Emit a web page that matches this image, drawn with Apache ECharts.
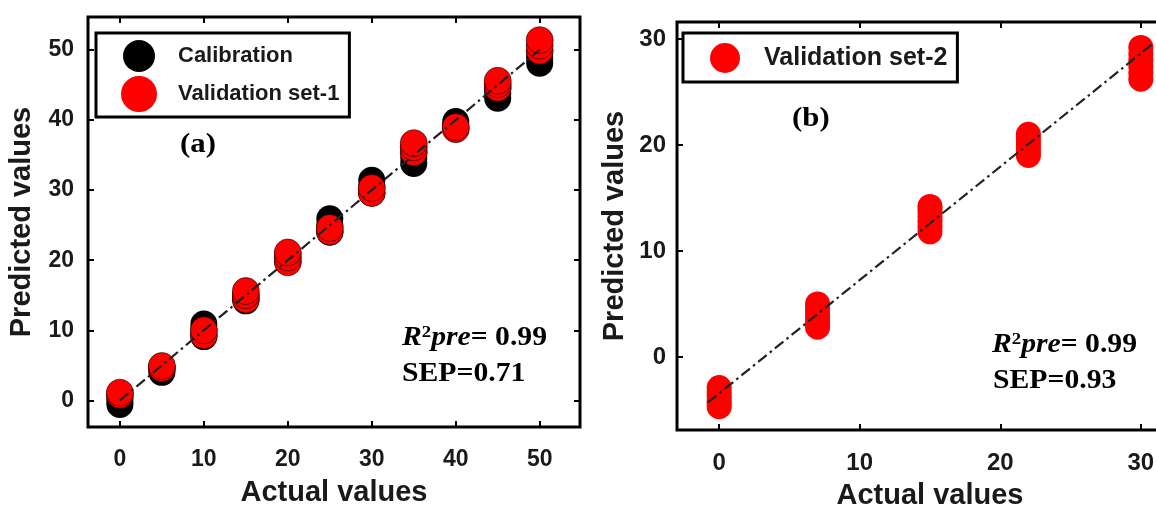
<!DOCTYPE html>
<html>
<head>
<meta charset="utf-8">
<script src="https://cdn.jsdelivr.net/npm/echarts@6/dist/echarts.min.js"></script>
<style>
  html, body { margin: 0; padding: 0; background: #ffffff; }
  #chart { width: 1156px; height: 508px; }
</style>
</head>
<body>
<div id="chart"></div>
<script>
// Panel (a): actual concentration levels and predicted replicates
const actualLevelsA = [0, 5, 10, 15, 20, 25, 30, 35, 40, 45, 50];
const calibrationPred = [
  [-0.6, -0.1, 0.4],
  [4.0, 4.4, 4.8],
  [9.1, 10.0, 10.9],
  [14.2, 14.6, 15.0],
  [19.8, 20.3, 20.8],
  [24.0, 25.0, 25.9],
  [29.6, 30.5, 31.4],
  [33.8, 34.6, 35.4],
  [39.2, 39.8],
  [43.1, 43.8, 44.5],
  [48.1, 48.8, 49.5]
];
const validation1Pred = [
  [0.8, 1.1],
  [4.6, 4.9],
  [9.3, 10.0],
  [14.4, 15.0, 15.6],
  [19.7, 20.4, 21.1],
  [24.1, 24.6],
  [29.6, 30.3],
  [35.4, 36.1, 36.7],
  [38.7, 39.0],
  [44.6, 45.1, 45.6],
  [49.9, 50.6, 51.4]
];
const fitAx = [0, 50];
const fitAy = [0, 50];
const ticksA = [0, 10, 20, 30, 40, 50];

// Panel (b): second validation set
const actualLevelsB = [0, 7, 15, 22, 30];
const validation2Pred = [
  [-2.9, -3.3, -3.7, -4.1, -4.4, -4.7],
  [2.8, 3.2, 3.7, 4.1, 4.6, 5.0],
  [11.8, 12.3, 12.8, 13.3, 13.8, 14.2],
  [19.0, 19.4, 19.8, 20.2, 20.6, 21.0],
  [26.2, 26.8, 27.4, 28.0, 28.6, 29.2]
];
const fitBx = [-0.8, 30.8];
const fitBy = [-4.3, 29.5];
const ticksBx = [0, 10, 20, 30];
const ticksBy = [0, 10, 20, 30];

function toPoints(levels, preds) {
  const out = [];
  levels.forEach((x, i) => preds[i].forEach(y => out.push([x, y])));
  return out;
}
function toLine(xs, ys) {
  return xs.map((x, i) => [x, ys[i]]);
}

const INK = '#1a1a1a';
const RED = '#ff0000';
const SANS = '"Liberation Sans", Arial, sans-serif';
const SERIF = '"Liberation Serif", "Times New Roman", serif';

function tickStyle(ticks) {
  return { inside: true, length: 6, customValues: ticks, lineStyle: { color: '#000', width: 2 } };
}
function mainX(grid, min, max, ticks, fontSize) {
  return {
    type: 'value', gridIndex: grid, min: min, max: max, position: 'bottom',
    axisLine: { show: false, onZero: false },
    splitLine: { show: false },
    axisTick: tickStyle(ticks),
    axisLabel: { customValues: ticks, margin: 21, color: INK, fontSize: fontSize, fontWeight: 'bold', fontFamily: SANS },
    name: 'Actual values', nameLocation: 'middle', nameGap: 51,
    nameTextStyle: { color: INK, fontSize: 29, fontWeight: 'bold', fontFamily: SANS }
  };
}
function mirrorX(grid, min, max, ticks) {
  return {
    type: 'value', gridIndex: grid, min: min, max: max, position: 'top',
    axisLine: { show: false, onZero: false }, splitLine: { show: false },
    axisTick: tickStyle(ticks),
    axisLabel: { show: false }
  };
}
function mainY(grid, min, max, ticks, fontSize, margin, gap) {
  return {
    type: 'value', gridIndex: grid, min: min, max: max, position: 'left',
    axisLine: { show: false, onZero: false },
    splitLine: { show: false },
    axisTick: tickStyle(ticks),
    axisLabel: { customValues: ticks, margin: margin, color: INK, fontSize: fontSize, fontWeight: 'bold', fontFamily: SANS },
    name: 'Predicted values', nameLocation: 'middle', nameGap: gap,
    nameTextStyle: { color: INK, fontSize: 29, fontWeight: 'bold', fontFamily: SANS }
  };
}
function mirrorY(grid, min, max, ticks) {
  return {
    type: 'value', gridIndex: grid, min: min, max: max, position: 'right',
    axisLine: { show: false, onZero: false }, splitLine: { show: false },
    axisTick: tickStyle(ticks),
    axisLabel: { show: false }
  };
}

const dashDot = [11, 4, 2.5, 4];

const r2Rich = {
  i: { fontFamily: SERIF, fontSize: 27, fontWeight: 'bold', fontStyle: 'italic', fill: '#000', color: '#000' },
  s: { fontFamily: SERIF, fontSize: 17, fontWeight: 'bold', fill: '#000', color: '#000', padding: [0, 0, 11, 0] },
  n: { fontFamily: SERIF, fontSize: 27, fontWeight: 'bold', fill: '#000', color: '#000' }
};

const option = {
  animation: false,
  backgroundColor: '#ffffff',
  grid: [
    { left: 88, top: 17, width: 492, height: 410, show: true, borderColor: '#000', borderWidth: 3,
      backgroundColor: 'transparent', containLabel: false, outerBoundsMode: 'none' },
    { left: 677, top: 22, width: 506, height: 408, show: true, borderColor: '#000', borderWidth: 3,
      backgroundColor: 'transparent', containLabel: false, outerBoundsMode: 'none' }
  ],
  xAxis: [
    mainX(0, -3.8, 54.8, ticksA, 23),
    mirrorX(0, -3.8, 54.8, ticksA),
    mainX(1, -3, 33, ticksBx, 24),
    mirrorX(1, -3, 33, ticksBx)
  ],
  yAxis: [
    mainY(0, -3.8, 54.7, ticksA, 23, 14, 52),
    mirrorY(0, -3.8, 54.7, ticksA),
    mainY(1, -6.9, 31.6, ticksBy, 24, 11, 48),
    mirrorY(1, -6.9, 31.6, ticksBy)
  ],
  legend: [
    {
      data: [
        { name: 'Calibration', itemStyle: { borderWidth: 0 } },
        { name: 'Validation set-1', itemStyle: { borderColor: RED, borderWidth: 4 } }
      ],
      orient: 'vertical', left: 96, top: 33,
      icon: 'circle', itemWidth: 68, itemHeight: 32, itemGap: 4,
      padding: [7, 10, 5, 25],
      borderColor: '#000', borderWidth: 3, backgroundColor: '#fff',
      textStyle: { color: INK, fontSize: 22, fontWeight: 'bold', fontFamily: SANS }
    },
    {
      data: ['Validation set-2'],
      orient: 'vertical', left: 683, top: 33,
      icon: 'circle', itemWidth: 68, itemHeight: 30,
      padding: [10, 10, 9, 27],
      borderColor: '#000', borderWidth: 3, backgroundColor: '#fff',
      textStyle: { color: INK, fontSize: 25, fontWeight: 'bold', fontFamily: SANS }
    }
  ],
  series: [
    {
      name: 'Calibration', type: 'scatter', xAxisIndex: 0, yAxisIndex: 0,
      symbol: 'circle', symbolSize: 27,
      itemStyle: { color: '#000', opacity: 1 },
      data: toPoints(actualLevelsA, calibrationPred), z: 2
    },
    {
      name: 'Validation set-1', type: 'scatter', xAxisIndex: 0, yAxisIndex: 0,
      symbol: 'circle', symbolSize: 27,
      itemStyle: { color: RED, borderColor: 'rgba(0,0,0,0.55)', borderWidth: 1, opacity: 1 },
      data: toPoints(actualLevelsA, validation1Pred), z: 3
    },
    {
      name: 'fit-a', type: 'line', xAxisIndex: 0, yAxisIndex: 0,
      symbol: 'none', silent: true,
      lineStyle: { color: '#222', width: 2.2, type: dashDot },
      data: toLine(fitAx, fitAy), z: 5
    },
    {
      name: 'Validation set-2', type: 'scatter', xAxisIndex: 2, yAxisIndex: 2,
      symbol: 'circle', symbolSize: 25,
      itemStyle: { color: RED, opacity: 1 },
      data: toPoints(actualLevelsB, validation2Pred), z: 3
    },
    {
      name: 'fit-b', type: 'line', xAxisIndex: 2, yAxisIndex: 2,
      symbol: 'none', silent: true,
      lineStyle: { color: '#222', width: 2.2, type: dashDot },
      data: toLine(fitBx, fitBy), z: 5
    }
  ],
  graphic: [
    { type: 'text', x: 180, y: 145, scaleX: 1.1, z: 10,
      style: { text: '(a)', fill: '#000', font: 'bold 28px ' + SERIF, align: 'left', verticalAlign: 'middle' } },
    { type: 'text', x: 792, y: 119, scaleX: 1.1, z: 10,
      style: { text: '(b)', fill: '#000', font: 'bold 28px ' + SERIF, align: 'left', verticalAlign: 'middle' } },
    { type: 'text', x: 402, y: 338, scaleX: 1.1, z: 10,
      style: { text: '{i|R}{s|2}{i|pre}{n|= 0.99}', align: 'left', verticalAlign: 'middle', rich: r2Rich } },
    { type: 'text', x: 402, y: 374, scaleX: 1.1, z: 10,
      style: { text: 'SEP=0.71', fill: '#000', font: 'bold 27px ' + SERIF, align: 'left', verticalAlign: 'middle' } },
    { type: 'text', x: 992, y: 345, scaleX: 1.1, z: 10,
      style: { text: '{i|R}{s|2}{i|pre}{n|= 0.99}', align: 'left', verticalAlign: 'middle', rich: r2Rich } },
    { type: 'text', x: 993, y: 381, scaleX: 1.1, z: 10,
      style: { text: 'SEP=0.93', fill: '#000', font: 'bold 27px ' + SERIF, align: 'left', verticalAlign: 'middle' } }
  ]
};

const chart = echarts.init(document.getElementById('chart'), null, { renderer: 'canvas' });
chart.setOption(option);
</script>
</body>
</html>
